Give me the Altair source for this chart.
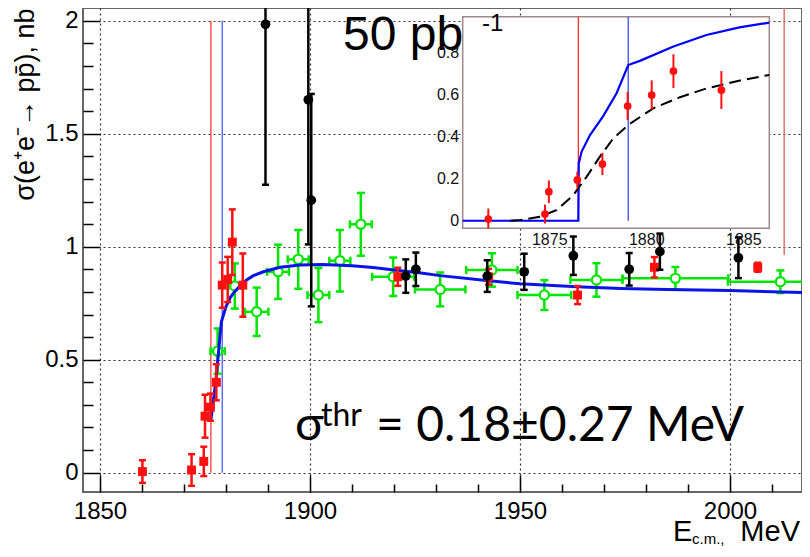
import altair as alt
import pandas as pd

# ---------------- data ----------------
# red squares (main plot)
red_E = [1860.1, 1871.8, 1874.7, 1875.0, 1876.3, 1877.7, 1879.1, 1880.4, 1881.5, 1884.0,
         1920.9, 1942.5, 1963.7, 1982.0, 2006.6]
red_s = [0.005, 0.012, 0.05, 0.25, 0.29, 0.40, 0.83, 0.855, 1.02, 0.83,
         0.867, 0.867, 0.786, 0.909, 0.909]
red_err = [0.05, 0.07, 0.065, 0.095, 0.06, 0.08, 0.10, 0.10, 0.145, 0.14,
           0.04, 0.035, 0.04, 0.045, 0.02]

# black filled circles
blk_E = [1889.4, 1899.6, 1900.3, 1922.8, 1925.2, 1942.2, 1951.0, 1962.7, 1976.0, 1983.3, 2002.0]
blk_s = [1.984, 1.65, 1.206, 0.870, 0.90, 0.870, 0.889, 0.96, 0.90, 0.978, 0.951]
blk_err = [0.71, 0.64, 0.47, 0.074, 0.074, 0.07, 0.08, 0.085, 0.072, 0.08, 0.09]

# green open circles
grn_E = [1878.0, 1882.1, 1887.3, 1892.4, 1897.2, 1902.0, 1907.1, 1912.1, 1919.8, 1931.0,
         1943.3, 1955.8, 1968.2, 1987.0, 2012.0]
grn_s = [0.538, 0.826, 0.712, 0.889, 0.944, 0.786, 0.938, 1.099, 0.867, 0.811,
         0.897, 0.786, 0.853, 0.86, 0.845]
grn_ey = [0.10, 0.10, 0.107, 0.12, 0.13, 0.12, 0.136, 0.139, 0.085, 0.075,
          0.074, 0.066, 0.074, 0.05, 0.05]
grn_ex = [1.7, 1.5, 2.8, 2.6, 2.5, 2.6, 2.5, 2.6, 5.0, 6.0,
          6.1, 6.4, 6.2, 12.6, 12.5]

# blue fit curve (main)
fit_E = [1876.4, 1877.0, 1877.6, 1878.3, 1878.9, 1880.0, 1881.0, 1882.0, 1883.5, 1884.9,
         1886.5, 1888.9, 1892.9, 1897.6, 1903.0, 1910.0, 1915.0, 1920.0, 1926.0, 1931.0,
         1942.0, 1950.0, 1963.5, 1974.0, 1985.0, 2000.0, 2018.5]
fit_s = [0.233, 0.32, 0.41, 0.55, 0.668, 0.735, 0.775, 0.80, 0.83, 0.853,
         0.872, 0.889, 0.909, 0.919, 0.921, 0.916, 0.908, 0.897, 0.885, 0.872,
         0.850, 0.836, 0.823, 0.815, 0.811, 0.806, 0.797]

# vertical lines (main)
thr_red_E = [1876.4]
thr_blue_E = [1879.1]
thr_lo = [0.0]
thr_hi = [2.0]
right_line_E = [2012.9]
right_line_lo = [0.963]
right_line_hi = [2.06]

# inset data
ins_red_E = [1871.86, 1874.78, 1874.98, 1876.45, 1877.74, 1879.04, 1880.28, 1881.4, 1883.87]
ins_red_s = [0.008, 0.032, 0.138, 0.194, 0.27, 0.546, 0.598, 0.712, 0.622]
ins_red_err = [0.05, 0.045, 0.054, 0.04, 0.053, 0.067, 0.07, 0.08, 0.09]

ins_blue_E = [1870.54, 1876.50, 1876.52, 1876.67, 1877.1, 1877.78, 1878.47, 1879.07,
              1879.7, 1881.4, 1883.1, 1884.8, 1886.34]
ins_blue_s = [0.0, 0.0, 0.273, 0.329, 0.408, 0.498, 0.607, 0.741,
              0.762, 0.829, 0.884, 0.92, 0.943]

ins_dash_E = [1873.0, 1873.5, 1874.52, 1875.38, 1876.24, 1876.93, 1877.61, 1878.3,
              1879.07, 1880.36, 1881.74, 1883.11, 1884.83, 1886.34]
ins_dash_s = [0.0, 0.003, 0.019, 0.051, 0.122, 0.21, 0.305, 0.392,
              0.456, 0.535, 0.588, 0.63, 0.667, 0.694]

ins_thr_red_E = [1876.5]
ins_thr_blue_E = [1879.07]

# tick values
x_major = [1850, 1900, 1950, 2000]
x_minor = [1860, 1870, 1880, 1890, 1910, 1920, 1930, 1940, 1960, 1970, 1980, 1990, 2010]
y_major = [0, 0.5, 1, 1.5, 2]
y_minor = [0.1, 0.2, 0.3, 0.4, 0.6, 0.7, 0.8, 0.9, 1.1, 1.2, 1.3, 1.4, 1.6, 1.7, 1.8, 1.9]
ix_major = [1875, 1880, 1885]
ix_minor = [1871, 1872, 1873, 1874, 1876, 1877, 1878, 1879, 1881, 1882, 1883, 1884, 1886]
iy_major = [0, 0.2, 0.4, 0.6, 0.8]
iy_minor = [0.05, 0.1, 0.15, 0.25, 0.3, 0.35, 0.45, 0.5, 0.55, 0.65, 0.7, 0.75, 0.85, 0.9]

# ---------------- layout ----------------
W, H = 719, 484
X_DOM = [1845.95, 1845.95 + W / 4.2]
Y_DOM = [-0.0854, 2.0562]
IX_DOM = [1870.54, 1886.34]
IY_DOM = [-0.036, 0.971]
IX_RANGE = [379.7, 686.3]
IY_RANGE = [220.3, 8.7]

FONT = "Liberation Sans"
RED = "#ff1010"
GREEN = "#00e600"
BLUE = "#0a14e6"

xs = alt.Scale(domain=X_DOM, nice=False, zero=False)
ys = alt.Scale(domain=Y_DOM, nice=False, zero=False)
ixs = alt.Scale(domain=IX_DOM, range=IX_RANGE, nice=False, zero=False)
iys = alt.Scale(domain=IY_DOM, range=IY_RANGE, nice=False, zero=False)


def tick_axis(orient, offset, values, size):
    return alt.Axis(orient=orient, offset=offset, values=values, tickSize=size,
                    tickWidth=1.5, tickColor="black", labels=False, domain=False,
                    grid=False, title=None)


AX_X = alt.Axis(orient="bottom", values=x_major, format="d", labelFont=FONT,
                labelFontSize=24, labelColor="black", labelPadding=7, ticks=False,
                tickSize=0, domain=False, grid=True, gridColor="#333",
                gridDash=[2, 3], gridWidth=1.2, title=None)
AX_Y = alt.Axis(orient="left", values=y_major, format="~g", labelFont=FONT,
                labelFontSize=24, labelColor="black", labelPadding=5, ticks=False,
                tickSize=0, domain=False, grid=True, gridColor="#333",
                gridDash=[2, 3], gridWidth=1.2,
                title="σ(e⁺e⁻→ pp̄), nb", titleFont=FONT, titleFontSize=27,
                titleFontWeight="normal", titleColor="black", titleAngle=270,
                titleAlign="right", titleBaseline="middle", titleX=-58, titleY=0)

# ---------------- frames ----------------
red = pd.DataFrame({"E": red_E, "s": red_s, "e": red_err})
red["lo"] = red.s - red.e
red["hi"] = red.s + red.e
red_caps = pd.concat([pd.DataFrame({"E": red.E, "v": red.lo}),
                      pd.DataFrame({"E": red.E, "v": red.hi})])

blk = pd.DataFrame({"E": blk_E, "s": blk_s, "e": blk_err})
blk["lo"] = blk.s - blk.e
blk["hi"] = blk.s + blk.e
blk_caps = pd.concat([pd.DataFrame({"E": blk.E, "v": blk.lo}),
                      pd.DataFrame({"E": blk.E, "v": blk.hi})])

grn = pd.DataFrame({"E": grn_E, "s": grn_s, "ey": grn_ey, "ex": grn_ex})
grn["lo"] = grn.s - grn.ey
grn["hi"] = grn.s + grn.ey
grn["xlo"] = grn.E - grn.ex
grn["xhi"] = grn.E + grn.ex
grn_vcaps = pd.concat([pd.DataFrame({"E": grn.E, "v": grn.lo}),
                       pd.DataFrame({"E": grn.E, "v": grn.hi})])
grn_hcaps = pd.concat([pd.DataFrame({"xc": grn.xlo, "s": grn.s}),
                       pd.DataFrame({"xc": grn.xhi, "s": grn.s})])

fit = pd.DataFrame({"E": fit_E, "s": fit_s})

# ---------------- main layers ----------------
l_thr_red = alt.Chart(pd.DataFrame({"E": thr_red_E, "lo": thr_lo, "hi": thr_hi})).mark_rule(
    color="#ff2a2a", strokeWidth=1.2).encode(
    x=alt.X("E:Q", scale=xs, axis=AX_X),
    y=alt.Y("lo:Q", scale=ys, axis=AX_Y), y2="hi:Q")
l_thr_blue = alt.Chart(pd.DataFrame({"E": thr_blue_E, "lo": thr_lo, "hi": thr_hi})).mark_rule(
    color="#3a4cff", strokeWidth=1.2).encode(
    x=alt.X("E:Q", scale=xs, axis=None),
    y=alt.Y("lo:Q", scale=ys, axis=None), y2="hi:Q")
l_right = alt.Chart(pd.DataFrame({"E": right_line_E, "lo": right_line_lo, "hi": right_line_hi})).mark_rule(
    color="#e07070", strokeWidth=1.5, clip=True).encode(
    x=alt.X("E:Q", scale=xs, axis=None),
    y=alt.Y("lo:Q", scale=ys, axis=None), y2="hi:Q")

l_g_h = alt.Chart(grn).mark_rule(color=GREEN, strokeWidth=2.5, clip=True).encode(
    x=alt.X("xlo:Q", scale=xs, axis=None), x2="xhi:Q",
    y=alt.Y("s:Q", scale=ys, axis=None))
l_g_v = alt.Chart(grn).mark_rule(color=GREEN, strokeWidth=2.5, clip=True).encode(
    x=alt.X("E:Q", scale=xs, axis=None),
    y=alt.Y("lo:Q", scale=ys, axis=None), y2="hi:Q")
l_g_hc = alt.Chart(grn_hcaps).mark_tick(orient="vertical", size=8, thickness=2.5,
                                        color=GREEN, opacity=1, clip=True).encode(
    x=alt.X("xc:Q", scale=xs, axis=None), y=alt.Y("s:Q", scale=ys, axis=None))
l_g_vc = alt.Chart(grn_vcaps).mark_tick(orient="horizontal", size=8, thickness=2.5,
                                        color=GREEN, opacity=1, clip=True).encode(
    x=alt.X("E:Q", scale=xs, axis=None), y=alt.Y("v:Q", scale=ys, axis=None))
l_g_p = alt.Chart(grn).mark_point(shape="circle", size=85, fill="white", fillOpacity=1,
                                  stroke=GREEN, strokeWidth=2.2, opacity=1, clip=True).encode(
    x=alt.X("E:Q", scale=xs, axis=None), y=alt.Y("s:Q", scale=ys, axis=None))

l_fit = alt.Chart(fit).mark_line(color=BLUE, strokeWidth=3, clip=True).encode(
    x=alt.X("E:Q", scale=xs, axis=None), y=alt.Y("s:Q", scale=ys, axis=None))

l_r_v = alt.Chart(red).mark_rule(color=RED, strokeWidth=2.5, clip=True).encode(
    x=alt.X("E:Q", scale=xs, axis=tick_axis("top", -H, x_major, 17)),
    y=alt.Y("lo:Q", scale=ys, axis=tick_axis("right", -W, y_major, 17)), y2="hi:Q")
l_r_c = alt.Chart(red_caps).mark_tick(orient="horizontal", size=7, thickness=2.5,
                                      color=RED, opacity=1, clip=True).encode(
    x=alt.X("E:Q", scale=xs, axis=None), y=alt.Y("v:Q", scale=ys, axis=None))
l_r_p = alt.Chart(red).mark_square(size=80, color=RED, opacity=1, clip=True).encode(
    x=alt.X("E:Q", scale=xs, axis=None), y=alt.Y("s:Q", scale=ys, axis=None))

l_b_v = alt.Chart(blk).mark_rule(color="black", strokeWidth=2.5, clip=True).encode(
    x=alt.X("E:Q", scale=xs, axis=tick_axis("top", -H, x_minor, 8)),
    y=alt.Y("lo:Q", scale=ys, axis=tick_axis("right", -W, y_minor, 10)), y2="hi:Q")
l_b_c = alt.Chart(blk_caps).mark_tick(orient="horizontal", size=7, thickness=2.5,
                                      color="black", opacity=1, clip=True).encode(
    x=alt.X("E:Q", scale=xs, axis=None), y=alt.Y("v:Q", scale=ys, axis=None))
l_b_p = alt.Chart(blk).mark_circle(size=95, color="black", opacity=1, clip=True).encode(
    x=alt.X("E:Q", scale=xs, axis=None), y=alt.Y("s:Q", scale=ys, axis=None))

main = alt.layer(l_thr_red, l_thr_blue, l_right, l_g_h, l_g_v, l_g_hc, l_g_vc, l_g_p,
                 l_fit, l_r_v, l_r_c, l_r_p, l_b_v, l_b_c, l_b_p).resolve_axis(
    x="independent", y="independent")

# ---------------- inset layers ----------------
IAX_X = alt.Axis(orient="bottom", offset=IY_RANGE[0] - H, values=ix_major, format="d",
                 labelFont=FONT, labelFontSize=16, labelColor="#111", labelPadding=3,
                 ticks=False, tickSize=0, domain=False, grid=False, title=None)
IAX_Y = alt.Axis(orient="left", offset=-IX_RANGE[0], values=iy_major, format="~g",
                 labelFont=FONT, labelFontSize=16, labelColor="#111", labelPadding=4,
                 ticks=False, tickSize=0, domain=False, grid=False, title=None)

ins_frame = pd.DataFrame({"x0": [IX_DOM[0]], "x1": [IX_DOM[1]], "y0": [IY_DOM[0]], "y1": [IY_DOM[1]]})
i_bg = alt.Chart(ins_frame).mark_rect(fill="white", stroke="#a08888", strokeWidth=1.5).encode(
    x=alt.X("x0:Q", scale=ixs, axis=IAX_X), x2="x1:Q",
    y=alt.Y("y0:Q", scale=iys, axis=IAX_Y), y2="y1:Q")

i_thr_r = alt.Chart(pd.DataFrame({"E": ins_thr_red_E, "lo": [0.0], "hi": [IY_DOM[1]]})).mark_rule(
    color="#ff2a2a", strokeWidth=1.3).encode(
    x=alt.X("E:Q", scale=ixs, axis=tick_axis("top", -IY_RANGE[0], ix_major, 8)),
    y=alt.Y("lo:Q", scale=iys, axis=tick_axis("right", IX_RANGE[0] - W, iy_major, 8)), y2="hi:Q")
i_thr_b = alt.Chart(pd.DataFrame({"E": ins_thr_blue_E, "lo": [0.0], "hi": [IY_DOM[1]]})).mark_rule(
    color="#3a4cff", strokeWidth=1.3).encode(
    x=alt.X("E:Q", scale=ixs, axis=tick_axis("top", -IY_RANGE[0], ix_minor, 4)),
    y=alt.Y("lo:Q", scale=iys, axis=tick_axis("right", IX_RANGE[0] - W, iy_minor, 4)), y2="hi:Q")

i_blue = alt.Chart(pd.DataFrame({"E": ins_blue_E, "s": ins_blue_s, "i": list(range(len(ins_blue_E)))})).mark_line(
    color="#0000ff", strokeWidth=2.2).encode(
    x=alt.X("E:Q", scale=ixs, axis=None), y=alt.Y("s:Q", scale=iys, axis=None), order="i:Q")
i_dash = alt.Chart(pd.DataFrame({"E": ins_dash_E, "s": ins_dash_s})).mark_line(
    color="black", strokeWidth=2, strokeDash=[12, 6]).encode(
    x=alt.X("E:Q", scale=ixs, axis=None), y=alt.Y("s:Q", scale=iys, axis=None))

ired = pd.DataFrame({"E": ins_red_E, "s": ins_red_s, "e": ins_red_err})
ired["lo"] = (ired.s - ired.e).clip(lower=IY_DOM[0])
ired["hi"] = ired.s + ired.e
i_r_v = alt.Chart(ired).mark_rule(color=RED, strokeWidth=2).encode(
    x=alt.X("E:Q", scale=ixs, axis=None), y=alt.Y("lo:Q", scale=iys, axis=None), y2="hi:Q")
i_r_p = alt.Chart(ired).mark_circle(size=60, color=RED, opacity=1).encode(
    x=alt.X("E:Q", scale=ixs, axis=None), y=alt.Y("s:Q", scale=iys, axis=None))

inset = alt.layer(i_bg, i_thr_r, i_thr_b, i_blue, i_dash, i_r_v, i_r_p).resolve_axis(
    x="independent", y="independent")

# ---------------- text ----------------
def txt(s, x, y, size, font=FONT, align="left"):
    return alt.Chart(pd.DataFrame({"t": [s]})).mark_text(
        font=font, fontSize=size, align=align, baseline="alphabetic", color="black").encode(
        text="t:N", x=alt.value(x), y=alt.value(y))

texts = alt.layer(
    txt("50 pb", 260, 42, 48),
    txt("-1", 399, 23, 24),
    txt("σ", 212, 432, 48, font="Lato"),
    txt("thr", 238, 418, 32, font="Lato"),
    txt("= 0.18±0.27 MeV", 293, 433, 48, font="Lato"),
    txt("E", 590, 533, 29),
    txt("c.m.,", 609, 536, 15),
    txt("MeV", 717, 533, 29, align="right"),
)

chart = alt.layer(main, inset, texts).resolve_scale(
    x="independent", y="independent").properties(
    width=W, height=H,
    padding={"left": 75, "top": 0, "right": 0, "bottom": 57},
    autosize=alt.AutoSizeParams(type="none"),
).configure_view(stroke="#666", strokeWidth=2)

chart.save("out.html", embed_options={"renderer": "svg", "actions": False})
